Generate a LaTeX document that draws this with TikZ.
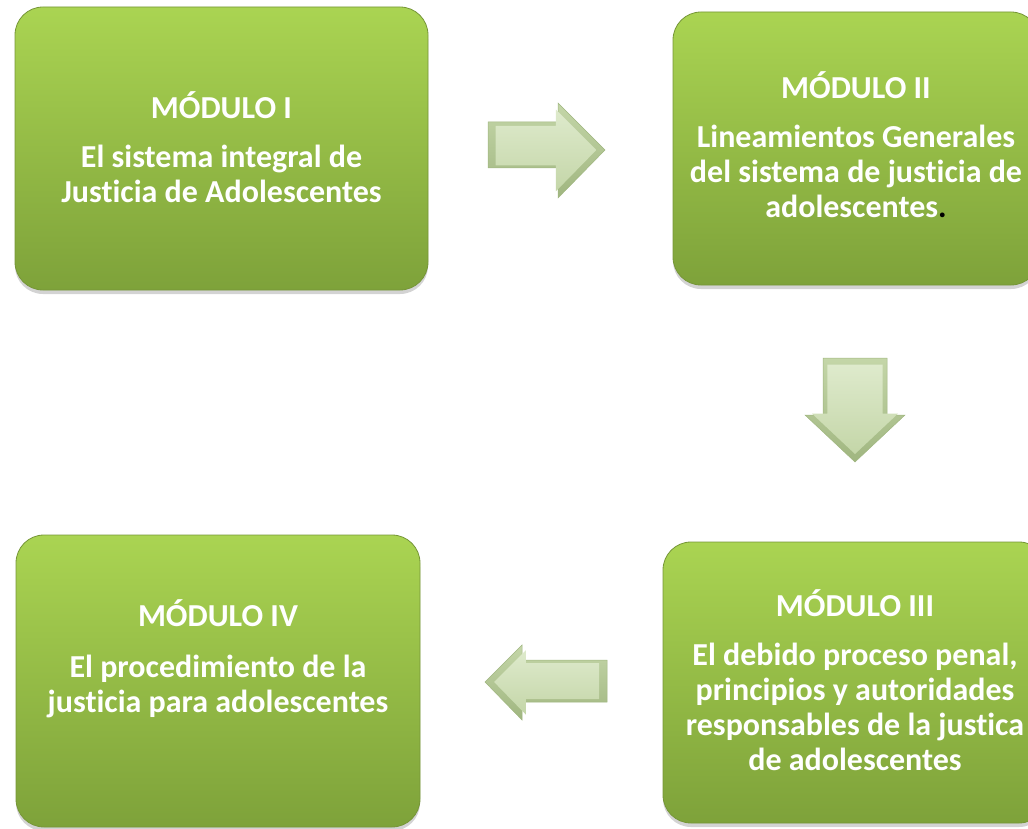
\documentclass[tikz,border=0pt]{standalone}
\usepackage{fontspec}
\setmainfont{Carlito}[Ligatures=NoCommon]
\usetikzlibrary{shadows}

\definecolor{boxtop}{RGB}{170,212,82}
\definecolor{boxbot}{RGB}{126,162,58}
\definecolor{boxline}{RGB}{118,150,56}
\definecolor{arrlight}{RGB}{222,234,204}
\definecolor{arrmid}{RGB}{196,214,168}
\definecolor{arrdark}{RGB}{160,182,128}

\tikzset{
  modbox/.style={rounded corners=28pt, draw=boxline, line width=0.8pt,
    top color=boxtop, bottom color=boxbot, inner sep=0pt,
    drop shadow={opacity=0.35, shadow xshift=0pt, shadow yshift=-4pt}},
  modtext/.style={text=white, align=center, inner sep=0pt,
    font=\bfseries\fontsize{32}{35}\selectfont},
  arrouter/.style={top color=arrmid, bottom color=arrdark, draw=arrdark, line width=0.5pt},
  arrinner/.style={top color=arrlight, bottom color=arrmid}
}

\begin{document}
\begin{tikzpicture}[x=1pt,y=-1pt]

	\useasboundingbox (0,0) rectangle (1028,829);
	\clip (0,0) rectangle (1028,829);

	% modules
	\node [modbox, minimum width=413pt, minimum height=283pt] (m1) at (221.5,148.5) {};
	\node [modbox, minimum width=366pt, minimum height=273pt] (m2) at (856,148.5) {};
	\node [modbox, minimum width=384pt, minimum height=281pt] (m3) at (855,682.5) {};
	\node [modbox, minimum width=404pt, minimum height=292pt] (m4) at (218,681) {};

	% texts
	\node [modtext] (t1) at ([yshift=1pt]m1.center) {MÓDULO I\\[14pt] El sistema integral de\\ Justicia de Adolescentes};
	\node [modtext] (t2) at ([yshift=4pt]m2.center) {MÓDULO II\\[14pt] Lineamientos Generales\\ del sistema de justicia de\\ adolescentes\textcolor{black}{.}};
	\node [modtext] (t3) at ([yshift=2pt]m3.center) {MÓDULO III\\[14pt] El debido proceso penal,\\ principios y autoridades\\ responsables de la justica\\ de adolescentes};
	\node [modtext] (t4) at ([yshift=22pt]m4.center) {MÓDULO IV\\[16pt] El procedimiento de la\\ justicia para adolescentes};

	% arrow I -> II
	\shade [arrouter] (488,122) -- (558,122) -- (558,103) -- (605,150) -- (558,198) -- (558,168) -- (488,168) -- cycle;
	\begin{scope}[shift={(543,150)}, scale=0.86, shift={(-543,-150)}]
		\shade [arrinner] (488,122) -- (558,122) -- (558,103) -- (605,150) -- (558,198) -- (558,168) -- (488,168) -- cycle;
	\end{scope}

	% arrow II -> III
	\shade [arrouter] (823,358) -- (887,358) -- (887,415) -- (905,415) -- (855,462) -- (805,415) -- (823,415) -- cycle;
	\begin{scope}[shift={(855,405)}, scale=0.86, shift={(-855,-405)}]
		\shade [arrinner] (823,358) -- (887,358) -- (887,415) -- (905,415) -- (855,462) -- (805,415) -- (823,415) -- cycle;
	\end{scope}

	% arrow III -> IV
	\shade [arrouter] (607,660) -- (522,660) -- (522,645) -- (485,682) -- (522,720) -- (522,702) -- (607,702) -- cycle;
	\begin{scope}[shift={(550,682)}, scale=0.86, shift={(-550,-682)}]
		\shade [arrinner] (607,660) -- (522,660) -- (522,645) -- (485,682) -- (522,720) -- (522,702) -- (607,702) -- cycle;
	\end{scope}

\end{tikzpicture}
\end{document}
